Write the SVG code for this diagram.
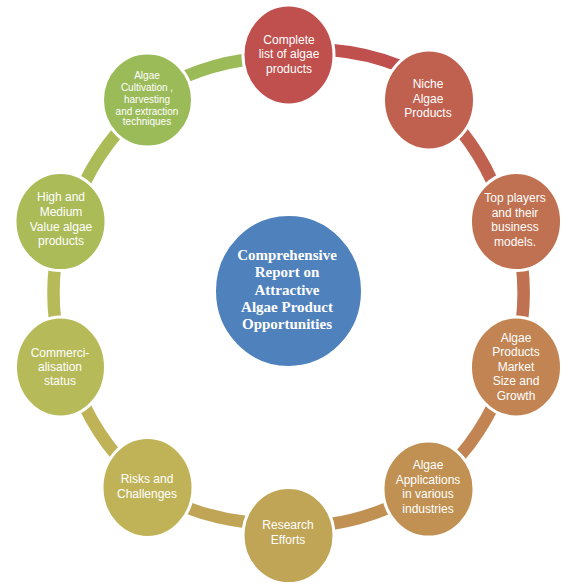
<svg xmlns="http://www.w3.org/2000/svg" width="578" height="586" viewBox="0 0 578 586">
<style>
.n{stroke:#fff;stroke-width:3}
.t{font-family:"Liberation Sans",Arial,sans-serif;font-size:12px;fill:#fff;text-anchor:middle}
.ts{font-size:10px}
.c{font-family:"Liberation Serif","Times New Roman",serif;font-size:15px;font-weight:bold;fill:#fff;text-anchor:middle}
.a{fill:none;stroke-width:12.5}
</style>
<rect width="578" height="586" fill="#fff"/>
<g id="connectors">
<path class="a" stroke="#9BBB59" d="M184,77 A240,240 0 0 1 244,60"/>
<path class="a" stroke="#C0504D" d="M331,50 A240,240 0 0 1 400,66"/>
<path class="a" stroke="#C0614F" d="M462,132 A240,240 0 0 1 492,181"/>
<path class="a" stroke="#C07151" d="M522,265 A240,240 0 0 1 522,321"/>
<path class="a" stroke="#C18452" d="M493,406 A240,240 0 0 1 460,456"/>
<path class="a" stroke="#C09152" d="M388,508 A240,240 0 0 1 331,524"/>
<path class="a" stroke="#C0A556" d="M246,522 A240,240 0 0 1 188,508"/>
<path class="a" stroke="#C0B357" d="M117,456 A240,240 0 0 1 85,407"/>
<path class="a" stroke="#B6BA58" d="M55,320 A240,240 0 0 1 55,266"/>
<path class="a" stroke="#ABBB58" d="M85,182 A240,240 0 0 1 117,133"/>
</g>
<g id="center">
<ellipse class="n" cx="288.5" cy="291" rx="74" ry="76.5" fill="#4F81BD"/>
<text class="c" x="287" y="259.5">Comprehensive</text>
<text class="c" x="287" y="277">Report on</text>
<text class="c" x="287" y="294.5">Attractive</text>
<text class="c" x="287" y="312">Algae Product</text>
<text class="c" x="287" y="329">Opportunities</text>
</g>
<g id="n1">
<ellipse class="n" cx="288.5" cy="55" rx="45.5" ry="50" fill="#C0504D"/>
<text class="t" x="289" y="43.5">Complete</text>
<text class="t" x="289" y="57.5">list of algae</text>
<text class="t" x="289" y="72.5">products</text>
</g>
<g id="n2">
<ellipse class="n" cx="429" cy="100" rx="45.5" ry="50" fill="#C0614F"/>
<text class="t" x="428" y="88">Niche</text>
<text class="t" x="428" y="103">Algae</text>
<text class="t" x="428" y="117">Products</text>
</g>
<g id="n3">
<ellipse class="n" cx="516" cy="221.5" rx="45.5" ry="49" fill="#C07151"/>
<text class="t" x="515" y="201.5">Top players</text>
<text class="t" x="515" y="216.5">and their</text>
<text class="t" x="515" y="231">business</text>
<text class="t" x="515" y="245.5">models.</text>
</g>
<g id="n4">
<ellipse class="n" cx="516" cy="367" rx="45.5" ry="50" fill="#C18452"/>
<text class="t" x="516" y="341.5">Algae</text>
<text class="t" x="516" y="356">Products</text>
<text class="t" x="516" y="370.5">Market</text>
<text class="t" x="516" y="385">Size and</text>
<text class="t" x="516" y="400">Growth</text>
</g>
<g id="n5">
<ellipse class="n" cx="428.5" cy="489" rx="45.5" ry="48" fill="#C09152"/>
<text class="t" x="428" y="468.5">Algae</text>
<text class="t" x="428" y="483.5">Applications</text>
<text class="t" x="428" y="497.5">in various</text>
<text class="t" x="428" y="512.5">industries</text>
</g>
<g id="n6">
<ellipse class="n" cx="288.5" cy="535.5" rx="45.5" ry="48" fill="#C0A556"/>
<text class="t" x="288" y="529">Research</text>
<text class="t" x="288" y="543.5">Efforts</text>
</g>
<g id="n7">
<ellipse class="n" cx="147.5" cy="487.5" rx="45.5" ry="50" fill="#C0B357"/>
<text class="t" x="147" y="483">Risks and</text>
<text class="t" x="147" y="497.5">Challenges</text>
</g>
<g id="n8">
<ellipse class="n" cx="60.5" cy="367" rx="45" ry="50" fill="#B6BA58"/>
<text class="t" x="60" y="356.5">Commerci-</text>
<text class="t" x="60" y="371">alisation</text>
<text class="t" x="60" y="385">status</text>
</g>
<g id="n9">
<ellipse class="n" cx="60.5" cy="221.5" rx="45.5" ry="49" fill="#ABBB58"/>
<text class="t" x="61" y="201">High and</text>
<text class="t" x="61" y="216">Medium</text>
<text class="t" x="61" y="230.5">Value algae</text>
<text class="t" x="61" y="245">products</text>
</g>
<g id="n10">
<ellipse class="n" cx="147.5" cy="100" rx="45" ry="47" fill="#9BBB59"/>
<text class="t ts" x="147" y="78.5">Algae</text>
<text class="t ts" x="147" y="90.5">Cultivation ,</text>
<text class="t ts" x="147" y="102.5">harvesting</text>
<text class="t ts" x="147" y="114.5">and extraction</text>
<text class="t ts" x="147" y="125">techniques</text>
</g>
</svg>
